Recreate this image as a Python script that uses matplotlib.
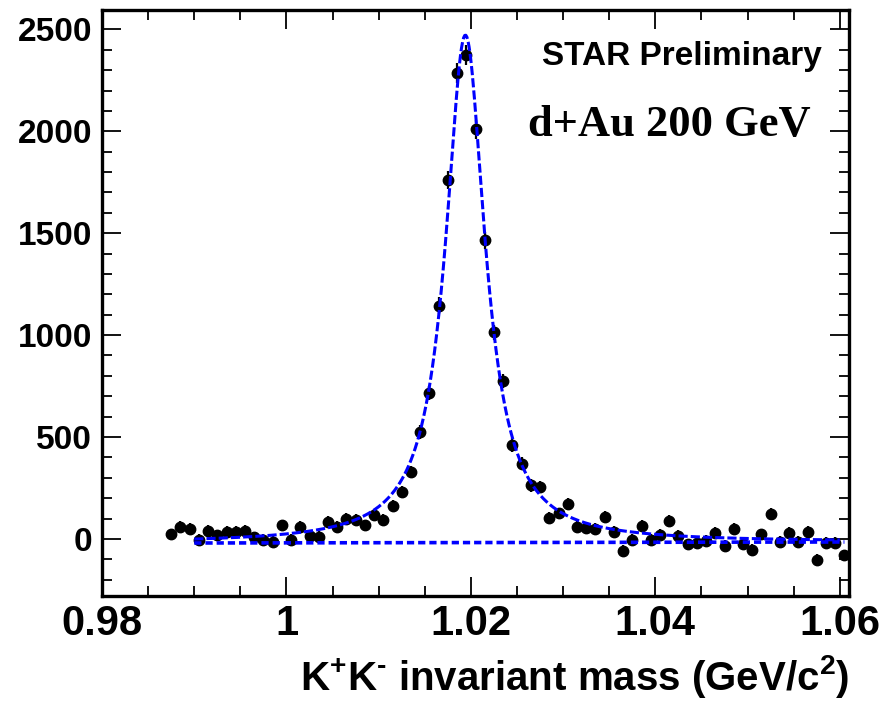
import numpy as np
import matplotlib
matplotlib.use("Agg")
from matplotlib import pyplot as plt
from matplotlib.ticker import MultipleLocator

plt.rcParams['font.family'] = ['Liberation Sans', 'DejaVu Sans']
plt.rcParams['font.weight'] = 'bold'
plt.rcParams['mathtext.fontset'] = 'custom'
plt.rcParams['mathtext.rm'] = 'Liberation Sans:bold'
plt.rcParams['mathtext.bf'] = 'Liberation Sans:bold'
plt.rcParams['mathtext.default'] = 'bf'

# K+K- invariant mass histogram, 1 MeV bins (bin centres)
mass = np.arange(0.9875, 1.0610, 0.001)
counts = [22, 59, 51, -3, 39, 18, 34, 34, 38, 7, -6, -15, 66, -3, 59, 13, 10,
          83, 59, 100, 95, 67, 116, 95, 160,
          231, 329, 525, 716, 1145, 1760, 2284, 2374, 2009, 1466, 1014, 775,
          461, 370, 263, 255,
          105, 125, 170, 59, 54, 51, 108, 34, -59, -6, 65, -6, 20, 88, 15,
          -26, -20, -11, 29, -34, 51, -26, -52, 23, 121, -15, 29, -15, 34,
          -101, -20, -20, -80]
errors = [28, 28, 28, 28, 28, 28, 28, 28, 28, 28, 28, 28, 28, 28, 28, 28, 28,
          28, 28, 28, 28, 28, 29, 28, 29,
          30, 31, 34, 36, 40, 45, 49, 50, 47, 42, 38, 36,
          33, 32, 31, 31,
          29, 29, 29, 28, 28, 28, 29, 28, 28, 28, 28, 28, 28, 28, 28,
          28, 28, 28, 28, 28, 28, 28, 28, 28, 29, 28, 28, 28, 28,
          28, 28, 28, 28]

# Breit-Wigner + linear background fit parameters
bw_mass = 1.0194
bw_width = 0.0052
bw_amp = 2490
bg_left, bg_right = -20, -15
fit_range = (0.990, 1.0600)
bg_range = (0.990, 1.0605)


def background(m):
    return bg_left + (bg_right - bg_left) * (m - bg_range[0]) / (bg_range[1] - bg_range[0])


def fit_func(m):
    return bw_amp / (1 + (2 * (m - bw_mass) / bw_width) ** 2) + background(m)


fig = plt.figure(figsize=(8.91, 7.01), dpi=100)
ax = fig.add_axes([0.1145, 0.1498, 0.8384, 0.8359])

ax.errorbar(mass, counts, yerr=errors, fmt='o', color='black', ms=7.5,
            elinewidth=1.6, capsize=0, zorder=2)

m_fit = np.linspace(fit_range[0], fit_range[1], 600)
ax.plot(m_fit, fit_func(m_fit), color='#0000ff', lw=2.2,
        ls=(0, (3, 1)), zorder=3)
m_bg = np.linspace(bg_range[0], bg_range[1], 50)
ax.plot(m_bg, background(m_bg), color='#0000ff', lw=2.6,
        ls=(0, (2, 1.1)), zorder=3)

ax.set_xlim(0.9802, 1.0610)
ax.set_ylim(-280, 2595)
ax.xaxis.set_major_locator(MultipleLocator(0.02))
ax.xaxis.set_minor_locator(MultipleLocator(0.005))
ax.yaxis.set_major_locator(MultipleLocator(500))
ax.yaxis.set_minor_locator(MultipleLocator(100))
ax.set_xticks([0.98, 1.0, 1.02, 1.04, 1.06])
ax.set_xticklabels(['0.98', '1', '1.02', '1.04', '1.06'])
ax.tick_params(which='both', direction='in', top=True, right=True,
               labelsize=24, width=1.3, pad=7)
ax.tick_params(axis='x', labelsize=30, pad=6)
ax.tick_params(which='major', length=14)
ax.tick_params(which='minor', length=7)
for lab in ax.get_xticklabels() + ax.get_yticklabels():
    lab.set_fontweight('bold')
for sp in ax.spines.values():
    sp.set_linewidth(2.4)

ax.set_xlabel(r'K$^{+}$K$^{\text{-}}$ invariant mass (GeV/c$^{2}$)', fontsize=29,
              fontweight='bold', loc='right', labelpad=6)

ax.text(0.964, 0.92, 'STAR Preliminary', transform=ax.transAxes,
        ha='right', va='center', fontsize=24, fontweight='bold')
ax.text(0.948, 0.804, 'd+Au 200 GeV', transform=ax.transAxes,
        ha='right', va='center', fontsize=32, fontweight='bold',
        family='Liberation Serif')

fig.savefig('out.png', dpi=100)
